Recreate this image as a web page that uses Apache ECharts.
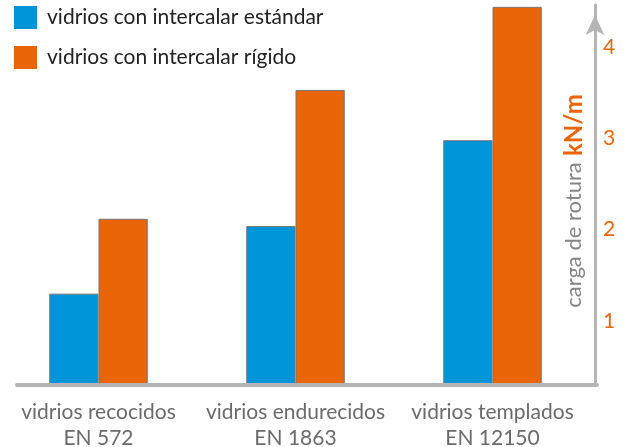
<!DOCTYPE html>
<html>
<head>
<meta charset="utf-8">
<script src="https://cdn.jsdelivr.net/npm/echarts@6/dist/echarts.min.js"></script>
<style>
html,body{margin:0;padding:0;background:#fff;}
#c{width:627px;height:447px;}
</style>
</head>
<body>
<div id="c"></div>
<script>
const categories = ['vidrios recocidos\nEN 572', 'vidrios endurecidos\nEN 1863', 'vidrios templados\nEN 12150'];
const seriesNames = ['vidrios con intercalar estándar', 'vidrios con intercalar rígido'];
const standardValues = [1.30, 2.04, 2.98];
const rigidValues = [2.12, 3.53, 4.44];
const yTickLabels = [1, 2, 3, 4];

const BLUE = '#0095D9';
const ORANGE = '#EA6508';
const AXIS_GRAY = '#b5b5b5';
const FONT = 'Lato, "Open Sans", sans-serif';

const chart = echarts.init(document.getElementById('c'), null, {renderer: 'canvas'});
chart.setOption({
  animation: false,
  textStyle: {fontFamily: FONT},
  legend: {
    orient: 'vertical',
    left: 14,
    top: 6,
    itemWidth: 23,
    itemHeight: 23,
    itemGap: 17,
    icon: 'rect',
    padding: 0,
    itemStyle: {borderWidth: 0},
    textStyle: {fontSize: 21, color: '#222', fontFamily: FONT, padding: [0, 0, 0, 5]},
    data: seriesNames
  },
  grid: [
    {left: 0, right: 36, top: 5, bottom: 62, outerBoundsMode: 'none', containLabel: false},
    {left: 17, right: 30, top: 5, bottom: 62, outerBoundsMode: 'none', containLabel: false}
  ],
  xAxis: [
    {
      type: 'category',
      gridIndex: 0,
      data: categories,
      axisLine: {show: false},
      axisTick: {show: false},
      axisLabel: {fontSize: 21, color: '#6b6b6b', lineHeight: 26, margin: 14, fontFamily: FONT, interval: 0}
    },
    {
      type: 'value',
      gridIndex: 1,
      min: 0, max: 1,
      z: 10,
      axisLine: {show: true, onZero: false, lineStyle: {color: AXIS_GRAY, width: 4}},
      axisTick: {show: false},
      axisLabel: {show: false},
      splitLine: {show: false}
    }
  ],
  yAxis: [
    {
      type: 'value',
      gridIndex: 0,
      position: 'right',
      offset: 4,
      min: 0.3,
      max: 4.46,
      z: 10,
      axisLine: {show: true, lineStyle: {color: AXIS_GRAY, width: 3}, symbol: ['none', 'arrow'], symbolSize: [14, 20], symbolOffset: [0, -10]},
      axisTick: {show: false},
      splitLine: {show: false},
      axisLabel: {customValues: yTickLabels, color: ORANGE, fontSize: 21, margin: 8, fontFamily: FONT},
      name: '{a|carga de rotura}  {b|kN/m}',
      nameLocation: 'middle',
      nameRotate: 90,
      nameGap: -33,
      nameMoveOverlap: false,
      nameTextStyle: {
        padding: [0, 12, 0, 0],
        rich: {
          a: {fontSize: 22, color: '#858585', fontFamily: FONT},
          b: {fontSize: 24, color: ORANGE, fontWeight: 'bold', fontFamily: FONT}
        }
      }
    },
    {
      type: 'value',
      gridIndex: 1,
      show: false
    }
  ],
  series: [
    {
      name: seriesNames[0],
      type: 'bar',
      xAxisIndex: 0, yAxisIndex: 0,
      data: standardValues,
      barWidth: '25%',
      barGap: '0%',
      itemStyle: {color: BLUE, borderColor: '#777', borderWidth: 1}
    },
    {
      name: seriesNames[1],
      type: 'bar',
      xAxisIndex: 0, yAxisIndex: 0,
      data: rigidValues,
      barWidth: '25%',
      barGap: '0%',
      itemStyle: {color: ORANGE, borderColor: '#777', borderWidth: 1}
    }
  ]
});
</script>
</body>
</html>
